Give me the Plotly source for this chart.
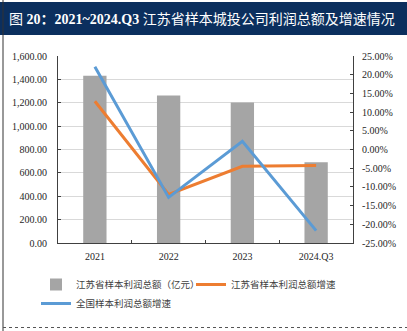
import plotly.graph_objects as go

categories = ["2021", "2022", "2023", "2024.Q3"]
profit_js = [1432, 1262, 1203, 690]          # 江苏省样本利润总额（亿元）
growth_js = [12.9, -12.0, -4.5, -4.3]        # 江苏省样本利润总额增速 (%)
growth_cn = [22.1, -12.8, 2.2, -21.7]        # 全国样本利润总额增速 (%)

y_ticks = [0, 200, 400, 600, 800, 1000, 1200, 1400, 1600]
y2_ticks = [-25, -20, -15, -10, -5, 0, 5, 10, 15, 20, 25]
y2_ticktext = ["-25.00%", "-20.00%", "-15.00%", "-10.00%", "-5.00%", "0.00%",
               "5.00%", "10.00%", "15.00%", "20.00%", "25.00%"]

title_text = "图 <b>20：2021~2024.Q3</b> 江苏省样本城投公司利润总额及增速情况"
names = ["江苏省样本利润总额（亿元）", "江苏省样本利润总额增速", "全国样本利润总额增速"]

W, H = 407, 331
L, R, T, B = 58, 54, 56, 88
PW = W - L - R
PH = H - T - B


def px(x):
    return (x - L) / PW


def py(y):
    return (H - B - y) / PH


FONT = "Liberation Serif, Noto Sans CJK SC, serif"
AX = "#404040"

fig = go.Figure()
fig.add_trace(go.Bar(x=categories, y=profit_js, name=names[0],
                     marker=dict(color="#a5a5a5", line=dict(width=0)),
                     yaxis="y"))
fig.add_trace(go.Scatter(x=categories, y=growth_js, name=names[1], mode="lines",
                         line=dict(color="#ed7d31", width=3), yaxis="y2"))
fig.add_trace(go.Scatter(x=categories, y=growth_cn, name=names[2], mode="lines",
                         line=dict(color="#5b9bd5", width=3), yaxis="y2"))

fig.update_layout(
    width=W, height=H,
    margin=dict(l=L, r=R, t=T, b=B, pad=0),
    paper_bgcolor="white", plot_bgcolor="white",
    font=dict(family=FONT, size=10, color="#262626"),
    bargap=0.684,
    showlegend=True,
    legend=dict(orientation="h", x=px(36), y=py(270), xanchor="left", yanchor="top",
                font=dict(size=9.5, family="Noto Sans CJK SC, sans-serif", color="#404040"),
                entrywidth=110, entrywidthmode="pixels", bgcolor="rgba(0,0,0,0)",
                itemwidth=30, traceorder="normal"),
    xaxis=dict(type="category", showline=True, linecolor=AX, linewidth=1,
               ticks="inside", ticklen=3, tickcolor=AX, tickson="boundaries",
               showgrid=False, ticklabelstandoff=4,
               tickfont=dict(size=10, family=FONT, color="#262626")),
    yaxis=dict(range=[0, 1600], tickvals=y_ticks, tickformat=",.2f",
               showline=True, linecolor=AX, linewidth=1,
               ticks="inside", ticklen=3, tickcolor=AX,
               showgrid=True, gridcolor="#d9d9d9", gridwidth=1, zeroline=False,
               ticklabelstandoff=8,
               tickfont=dict(size=10, family=FONT, color="#262626")),
    yaxis2=dict(range=[-25, 25], tickvals=y2_ticks, ticktext=y2_ticktext,
                overlaying="y", side="right", showline=True, linecolor=AX, linewidth=1,
                ticks="inside", ticklen=3, tickcolor=AX, showgrid=False, zeroline=False,
                ticklabelstandoff=6,
                tickfont=dict(size=10, family=FONT, color="#262626")),
    shapes=[
        dict(type="rect", xref="paper", yref="paper", x0=px(0), x1=px(W), y0=py(35), y1=py(2),
             fillcolor="#0b2f5e", line=dict(width=0), layer="below"),
        dict(type="line", xref="paper", yref="paper", x0=px(3), x1=px(3), y0=py(0), y1=py(H),
             line=dict(color="#333333", width=1)),
        dict(type="line", xref="paper", yref="paper", x0=px(3), x1=px(W), y0=py(327.5), y1=py(327.5),
             line=dict(color="#555555", width=1, dash="dot")),
    ],
    annotations=[
        dict(text=title_text, xref="paper", yref="paper", x=px(7), y=py(19),
             xanchor="left", yanchor="middle", showarrow=False,
             font=dict(size=14, color="white", family=FONT)),
    ],
)

fig.write_html("out.html")
